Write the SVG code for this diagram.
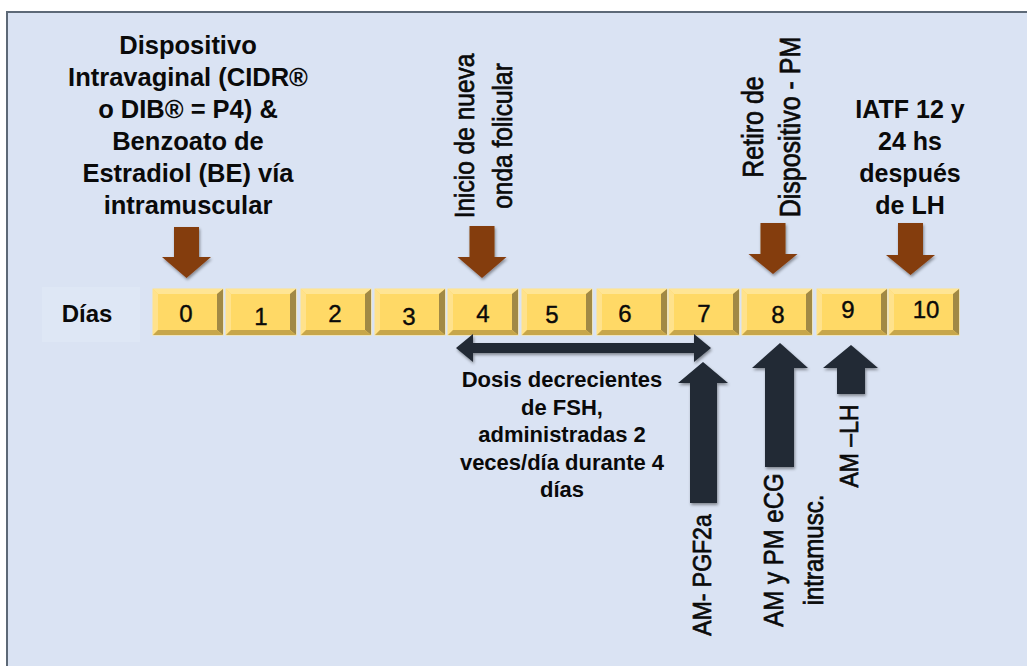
<svg xmlns="http://www.w3.org/2000/svg" xmlns:xlink="http://www.w3.org/1999/xlink" width="1027" height="666" viewBox="0 0 1027 666">
  <style>
    .hb { font-family: "Liberation Sans", Arial, sans-serif; font-weight: 700; fill: #0a0a0a; text-anchor: middle; }
    .rv { font-family: "Liberation Sans", Arial, sans-serif; font-weight: 400; fill: #0a0a0a; stroke: #0a0a0a; stroke-width: 0.6; text-anchor: middle; }
    .num { font-family: "Liberation Sans", Arial, sans-serif; font-size: 24px; fill: #0a0a0a; stroke: #0a0a0a; stroke-width: 0.4; text-anchor: middle; }
    .brown { fill: #843c0c; }
    .dark { fill: #222a35; }
  </style>
  <defs>
    <filter id="shadow" x="-30%" y="-30%" width="160%" height="160%">
      <feDropShadow dx="1" dy="2" stdDeviation="1.5" flood-color="#000" flood-opacity="0.4"/>
    </filter>
    <!-- bevelled day cell, 70 x 46 -->
    <g id="cell">
      <rect x="0" y="0" width="70" height="46" fill="#ffd966" stroke="#ffe38a" stroke-width="1"/>
      <polygon points="0,0 70,0 64,5 5,5" fill="#ffe594"/>
      <polygon points="0,0 5,5 5,41 0,46" fill="#ffe28c"/>
      <polygon points="70,0 70,46 64,41 64,5" fill="#a18945"/>
      <polygon points="0,46 70,46 64,41 5,41" fill="#c7a64a"/>
    </g>
  </defs>

  <!-- background and frame -->
  <rect x="0" y="0" width="1027" height="666" fill="#ffffff"/>
  <rect x="7" y="12" width="1030" height="670" fill="#dae3f3" stroke="#5d6977" stroke-width="2"/>

  <!-- row label -->
  <g id="label-dias">
    <rect x="42" y="287" width="98" height="55" fill="#dee7f5"/>
    <text class="hb" x="87" y="322" font-size="24">Días</text>
  </g>

  <!-- day cells -->
  <g id="day0"><use xlink:href="#cell" x="153" y="289"/><text class="num" x="186" y="322">0</text></g>
  <g id="day1"><use xlink:href="#cell" x="226" y="289"/><text class="num" x="261" y="325">1</text></g>
  <g id="day2"><use xlink:href="#cell" x="301" y="289"/><text class="num" x="335" y="322">2</text></g>
  <g id="day3"><use xlink:href="#cell" x="375" y="289"/><text class="num" x="409" y="325">3</text></g>
  <g id="day4"><use xlink:href="#cell" x="448" y="289"/><text class="num" x="483" y="322">4</text></g>
  <g id="day5"><use xlink:href="#cell" x="522" y="289"/><text class="num" x="552" y="323">5</text></g>
  <g id="day6"><use xlink:href="#cell" x="597" y="289"/><text class="num" x="625" y="322">6</text></g>
  <g id="day7"><use xlink:href="#cell" x="669" y="289"/><text class="num" x="704" y="322">7</text></g>
  <g id="day8"><use xlink:href="#cell" x="742" y="289"/><text class="num" x="778" y="323">8</text></g>
  <g id="day9"><use xlink:href="#cell" x="817" y="289"/><text class="num" x="848" y="318">9</text></g>
  <g id="day10"><use xlink:href="#cell" x="889" y="289"/><text class="num" x="926" y="318">10</text></g>

  <!-- event notes above the timeline -->
  <g id="note-insercion">
    <text class="hb" font-size="25.5" x="188" y="54">Dispositivo</text>
    <text class="hb" font-size="25.5" x="188" y="86">Intravaginal (CIDR®</text>
    <text class="hb" font-size="25.5" x="188" y="118">o DIB® = P4) &amp;</text>
    <text class="hb" font-size="25.5" x="188" y="150">Benzoato de</text>
    <text class="hb" font-size="25.5" x="188" y="182">Estradiol (BE) vía</text>
    <text class="hb" font-size="25.5" x="188" y="214">intramuscular</text>
  </g>
  <g id="note-onda">
    <text class="rv" font-size="24.5" transform="translate(474,136) rotate(-90) scale(1,1.15)">Inicio de nueva</text>
    <text class="rv" font-size="24.5" transform="translate(512,136) rotate(-90) scale(1,1.15)">onda folicular</text>
  </g>
  <g id="note-retiro">
    <text class="rv" font-size="25" transform="translate(763,127) rotate(-90) scale(1,1.15)">Retiro de</text>
    <text class="rv" font-size="25" transform="translate(800,127) rotate(-90) scale(1,1.15)">Dispositivo - PM</text>
  </g>
  <g id="note-iatf">
    <text class="hb" font-size="25" x="910" y="118">IATF 12 y</text>
    <text class="hb" font-size="25" x="910" y="150">24 hs</text>
    <text class="hb" font-size="25" x="910" y="182">después</text>
    <text class="hb" font-size="25" x="910" y="214">de LH</text>
  </g>

  <!-- treatment notes below the timeline -->
  <g id="note-fsh">
    <text class="hb" font-size="22" x="562" y="387">Dosis decrecientes</text>
    <text class="hb" font-size="22" x="562" y="415">de FSH,</text>
    <text class="hb" font-size="22" x="562" y="442">administradas 2</text>
    <text class="hb" font-size="22" x="562" y="470">veces/día durante 4</text>
    <text class="hb" font-size="22" x="562" y="497">días</text>
  </g>
  <g id="note-pgf">
    <text class="rv" font-size="23" transform="translate(711,575) rotate(-90) scale(1,1.15)">AM- PGF2a</text>
  </g>
  <g id="note-ecg">
    <text class="rv" font-size="24" transform="translate(783,550) rotate(-90) scale(1,1.15)">AM y PM eCG</text>
    <text class="rv" font-size="24" transform="translate(823,550) rotate(-90) scale(1,1.15)">intramusc.</text>
  </g>
  <g id="note-lh">
    <text class="rv" font-size="23" transform="translate(858,446) rotate(-90) scale(1,1.15)">AM –LH</text>
  </g>

  <!-- connectors: block arrows -->
  <g id="connectors" filter="url(#shadow)">
    <!-- brown arrows pointing down onto the days -->
    <polygon class="brown" points="174,227 199,227 199,257 211,257 186.5,278 162,257 174,257"/>
    <polygon class="brown" points="469.5,226 494.5,226 494.5,257 506.5,257 482,278 457.5,257 469.5,257"/>
    <polygon class="brown" points="760.5,223 785.5,223 785.5,254 797.5,254 773,274 748.5,254 760.5,254"/>
    <polygon class="brown" points="898,223 923,223 923,255 935,255 910.5,275 886,255 898,255"/>
    <!-- FSH period, days 4 to 7 -->
    <polygon class="dark" points="456,348 473,334 473,343 694,343 694,334 711,348 694,362 694,353 473,353 473,362"/>
    <!-- dark arrows pointing up from below -->
    <polygon class="dark" points="703,362 728,383 717,383 717,503 690,503 690,383 678,383"/>
    <polygon class="dark" points="780,343 808,368 794,368 794,467 765,467 765,368 752,368"/>
    <polygon class="dark" points="851,345 878,368 865,368 865,394 837,394 837,368 823,368"/>
  </g>
</svg>
